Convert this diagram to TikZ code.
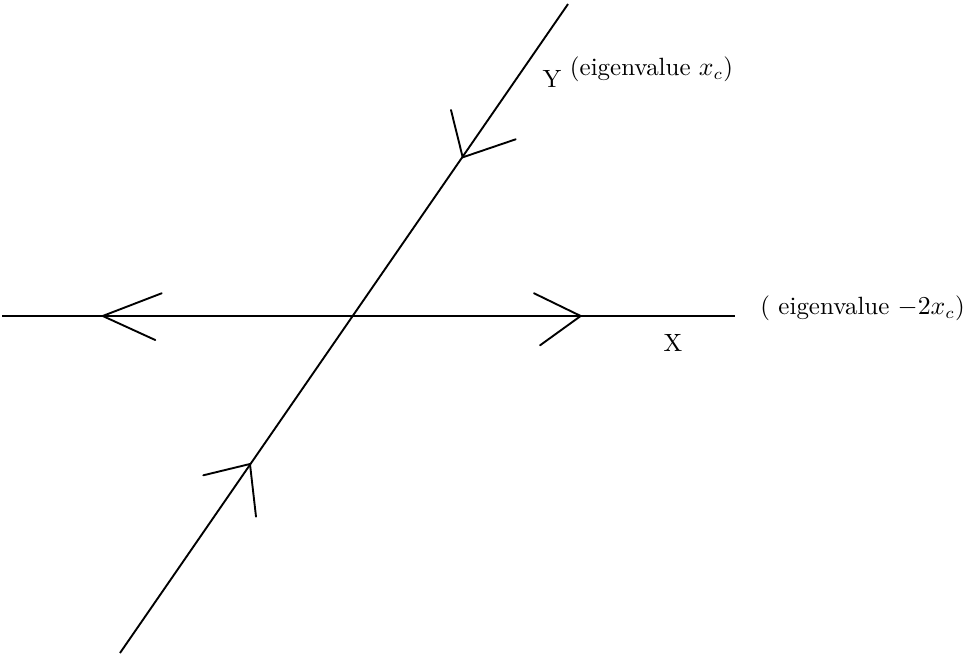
\documentclass[tikz,border=0pt]{standalone}
\begin{document}
\begin{tikzpicture}[axis/.style={line width=0.8pt},
    barb/.style={line width=0.8pt,line cap=round},
    lbl/.style={anchor=base west,inner sep=0pt,font=\fontsize{10.6}{12}\selectfont}]
  \useasboundingbox (0,0) rectangle (14.373,9.806);
  \coordinate (xl) at (0.030,5.090);
  \coordinate (xr) at (10.970,5.090);
  \coordinate (yb) at (1.791,0.060);
  \coordinate (yt) at (8.478,9.746);
  \draw[axis] (xl)--(xr);
  \draw[axis] (yb)--(yt);
  % flow barbs
  \coordinate (t1) at (1.533,5.090);
  \coordinate (t2) at (8.667,5.090);
  \coordinate (t3) at (6.906,7.458);
  \coordinate (t4) at (3.731,2.881);
  \draw[barb] (2.413,5.429)--(t1)--(2.318,4.731);
  \draw[barb] (7.970,5.429)--(t2)--(8.060,4.652);
  \draw[barb] (6.731,8.164)--(t3)--(7.697,7.727);
  \draw[barb] (3.034,2.712)--(t4)--(3.821,2.094);
  \node[lbl] (ylab) at (8.090,8.500) {Y};
  \node[lbl] (yeig) at (8.500,8.676) {(eigenvalue $x_c$)};
  \node[lbl] (xlab) at (9.896,4.560) {X};
  \node[lbl] (xeig) at (11.343,5.105) {( eigenvalue $-2x_c$)};
\end{tikzpicture}
\end{document}
